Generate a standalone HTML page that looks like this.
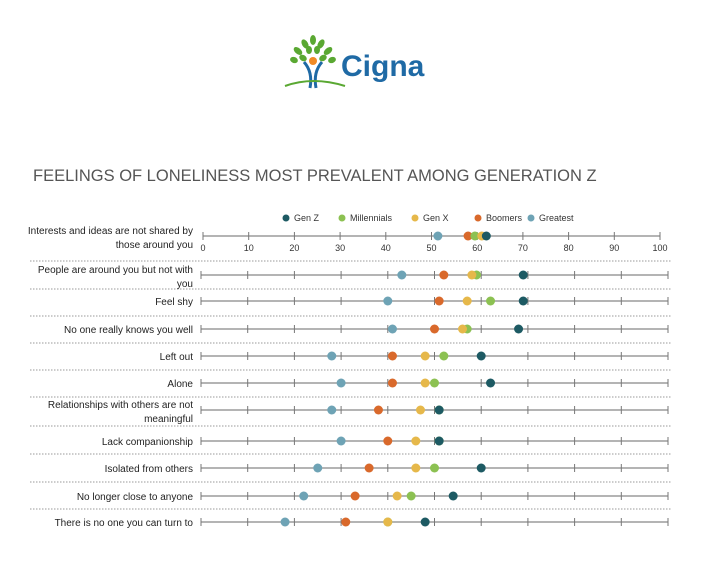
<!DOCTYPE html>
<html><head><meta charset="utf-8"><style>
body{margin:0;background:#fff;width:706px;height:556px;overflow:hidden;font-family:"Liberation Sans",sans-serif}
</style></head><body>
<svg width="706" height="556" viewBox="0 0 706 556">
<g>
  <g fill="#5aa832">
    <ellipse cx="313" cy="40" rx="3" ry="5"/><ellipse cx="305" cy="44" rx="3" ry="5" transform="rotate(-30 305 44)"/>
    <ellipse cx="321" cy="44" rx="3" ry="5" transform="rotate(30 321 44)"/><ellipse cx="298" cy="51" rx="3" ry="5" transform="rotate(-50 298 51)"/>
    <ellipse cx="328" cy="51" rx="3" ry="5" transform="rotate(50 328 51)"/><ellipse cx="309" cy="50" rx="3" ry="4"/>
    <ellipse cx="317" cy="50" rx="3" ry="4"/><ellipse cx="303" cy="58" rx="3" ry="4" transform="rotate(-60 303 58)"/>
    <ellipse cx="323" cy="58" rx="3" ry="4" transform="rotate(60 323 58)"/><ellipse cx="294" cy="60" rx="3" ry="4" transform="rotate(-70 294 60)"/>
    <ellipse cx="332" cy="60" rx="3" ry="4" transform="rotate(70 332 60)"/>
  </g>
  <circle cx="313" cy="61" r="4" fill="#f08a24"/>
  <path d="M304 62 Q313 72 310 88 M322 62 Q313 72 316 88" stroke="#1f6aa5" stroke-width="3" fill="none"/>
  <path d="M285 86 Q313 76 345 86" stroke="#5aa832" stroke-width="2" fill="none"/>
  <text x="341" y="76" font-size="30" fill="#1f6aa5" font-weight="bold">Cigna</text>
</g>
<text x="33" y="181" font-size="16.5" fill="#555">FEELINGS OF LONELINESS MOST PREVALENT AMONG GENERATION Z</text>
<g id="legend"></g>
<g id="rows"></g>
</svg>
<script>
const categories=["Interests and ideas are not shared by|those around you","People are around you but not with|you","Feel shy","No one really knows you well","Left out","Alone","Relationships with others are not|meaningful","Lack companionship","Isolated from others","No longer close to anyone","There is no one you can turn to"];
const seriesNames=["Greatest","Boomers","Millennials","Gen X","Gen Z"];
const greatest=[51.4,43,40,41,28,30,28,30,25,22,18];
const boomers=[58,52,51,50,41,41,38,40,36,33,31];
const millennials=[59.5,59,62,57,52,50,51,51,50,45,40];
const genX=[61,58,57,56,48,48,47,46,46,42,40];
const genZ=[62,69,69,68,60,62,51,51,60,54,48];
const tickLabels=[0,10,20,30,40,50,60,70,80,90,100];
const colors={"Gen Z":"#1d5a63","Millennials":"#8cc152","Gen X":"#e6b84a","Boomers":"#d9692b","Greatest":"#6ea3b5"};
const series=[greatest,boomers,millennials,genX,genZ];
const NS="http://www.w3.org/2000/svg";
function mk(t,a,p){const e=document.createElementNS(NS,t);for(const k in a)e.setAttribute(k,a[k]);p.appendChild(e);return e;}
const rowY=[236,275,301,329,356,383,410,441,468,496,522];
const sepY=[261,289,316,343,370,397,426,454,482,509];
function xScale(i,v){return i===0?203+v*4.57:201+v*4.67;}
const rows=document.getElementById('rows');
sepY.forEach(y=>{const l=mk('line',{x1:30,x2:672,y1:y,y2:y,stroke:'#999','stroke-dasharray':'1.5,1.5'},rows);

});
categories.forEach((c,i)=>{
 const y=rowY[i];const g=mk('g',{},rows);
 
 
 const parts=c.split('|');
 parts.forEach((p,j)=>{const t=mk('text',{x:193,y:(parts.length>1?y-2+j*14:y+4),'font-size':'10','text-anchor':'end',fill:'#222'},g);t.textContent=p;
 
 });
 const a=mk('line',{x1:xScale(i,0),x2:xScale(i,100),y1:y,y2:y,stroke:'#888','stroke-width':1.3},g);
 
 
 tickLabels.forEach(v=>{const t=mk('line',{x1:xScale(i,v),x2:xScale(i,v),y1:y-4,y2:y+4,stroke:'#777'},g);
  
  
  if(i===0){const l=mk('text',{x:xScale(i,v),y:y+15,'font-size':'9','text-anchor':'middle',fill:'#333'},g);l.textContent=v;
  
  }});
 series.forEach((s,k)=>{const d=mk('circle',{cx:xScale(i,s[i]),cy:y,r:4.5,fill:colors[seriesNames[k]]},g);
  
  });
});
const lg=document.getElementById('legend');
const legOrder=["Gen Z","Millennials","Gen X","Boomers","Greatest"];const legX=[286,342,415,478,531];
legOrder.forEach((n,k)=>{const c=mk('circle',{cx:legX[k],cy:218,r:3.5,fill:colors[n]},lg);
 
 
 const t=mk('text',{x:legX[k]+8,y:221,'font-size':'9',fill:'#333'},lg);t.textContent=n;
 
 });
</script>
</body></html>
